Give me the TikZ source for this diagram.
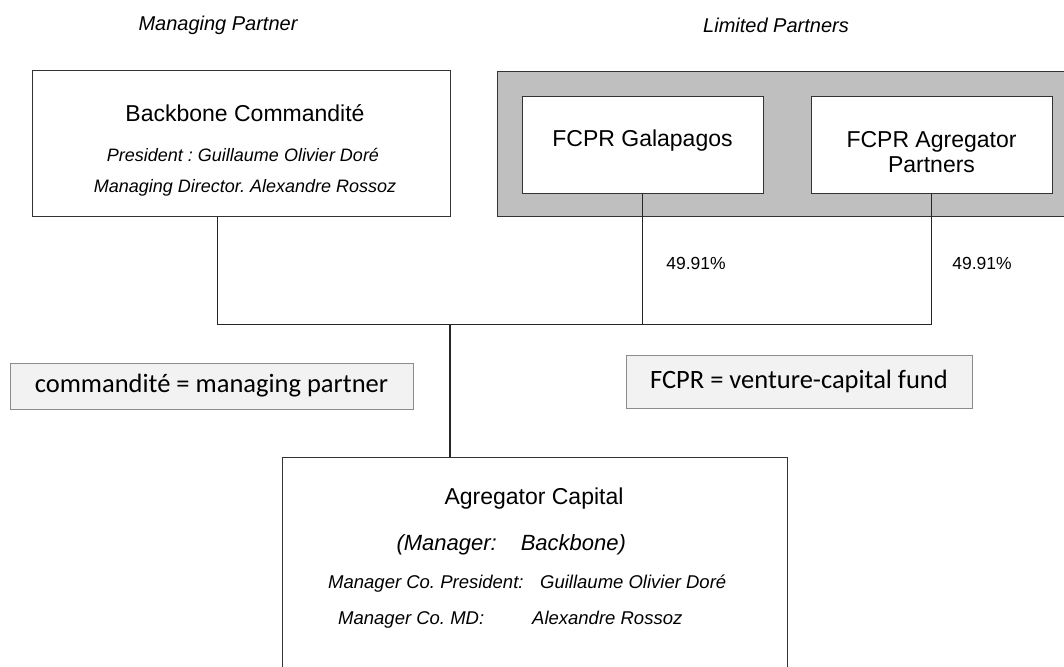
\documentclass[tikz,border=0pt]{standalone}
\usepackage{fontspec}
\setmainfont{Liberation Sans}
\newfontfamily\notefont{Carlito}
\usetikzlibrary{positioning}
\frenchspacing

\tikzset{
	orgbox/.style={draw=black!80, fill=white, line width=1pt, inner sep=0pt},
	notebox/.style={draw=black!45, fill=black!5, line width=1pt, inner sep=0pt,
		font=\notefont\fontsize{26.5}{30}\selectfont},
	link/.style={draw=black!85, line width=1pt},
	title/.style={font=\fontsize{23}{25}\selectfont, align=center},
	detail/.style={font=\itshape\fontsize{18.5}{22}\selectfont},
	heading/.style={font=\itshape\fontsize{20}{24}\selectfont},
}

\begin{document}
\begin{tikzpicture}[x=1pt, y=-1pt]
	\useasboundingbox (0,0) rectangle (1064,666);

	\node[heading] (mp) at (218,25) {Managing Partner};
	\node[heading] (lp) at (776,25) {Limited Partners};

	% partner boxes
	\node[orgbox, minimum width=418, minimum height=145] (bb) at (241,143.5) {};
	\node[orgbox, fill=black!25, minimum width=580, minimum height=144] (lpf) at (787,144) {};
	\node[orgbox, minimum width=241, minimum height=96] (gal) at (642.5,145) {};
	\node[orgbox, minimum width=241, minimum height=96] (agp) at (931.5,145) {};

	\node[title] (bbname) at (245,113) {Backbone Commandité};
	\node[detail, font=\itshape\fontsize{18}{22}\selectfont] (bbpres) at (243,155) {President : Guillaume Olivier Doré};
	\node[detail, font=\itshape\fontsize{18}{22}\selectfont] (bbmd) at (245,188) {Managing Director. Alexandre Rossoz};
	\node[title] (galname) at (642.5,141) {FCPR Galapagos};
	\node[title] (agpname) at (931.5,152) {FCPR Agregator\\Partners};

	% the fund
	\node[orgbox, minimum width=505, minimum height=243] (cap) at (534.5,578.5) {};
	\node[title] (capname) at (534,499) {Agregator Capital};
	\node[font=\itshape\fontsize{22}{26}\selectfont, anchor=west] (capmgr) at (393,545) {(Manager:\hspace{24pt}Backbone)};
	\node[detail, anchor=west, inner sep=0pt] (cappres) at (328,584) {\makebox[212pt][l]{Manager Co. President:}Guillaume Olivier Doré};
	\node[detail, anchor=west, inner sep=0pt] (capmd) at (338,620) {\makebox[194pt][l]{Manager Co. MD:}Alexandre Rossoz};

	% shares
	\node[font=\fontsize{17.5}{20}\selectfont] (pgal) at (696,263) {49.91\%};
	\node[font=\fontsize{17.5}{20}\selectfont] (pagp) at (982,263) {49.91\%};

	% glossary
	\node[notebox, minimum width=403, minimum height=46] (ncom) at (211.5,386) {commandité = managing partner};
	\node[notebox, minimum width=346, minimum height=53] (nfcpr) at (799,381.5) {FCPR = venture-capital fund};

	\coordinate (bus) at (450,324);
	\draw[link] ([xshift=-24]bb.south) |- (agp.south |- bus) -- (agp.south);
	\draw[link] (gal.south) -- (gal.south |- bus);
	\draw[link, line width=1.6pt] (bus) -- (cap.north -| bus);
\end{tikzpicture}
\end{document}
